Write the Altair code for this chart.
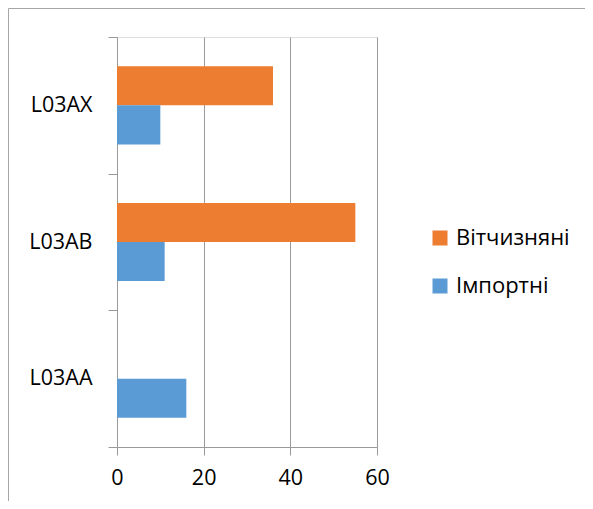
import altair as alt
import pandas as pd

categories = ["L03AX", "L03AB", "L03AA"]
domestic = [36, 55, 0]
imported = [10, 11, 16]
series_names = ["Вітчизняні", "Імпортні"]
series_colors = ["#ED7D31", "#5B9BD5"]
x_ticks = [0, 20, 40, 60]

rows = []
for c, d, i in zip(categories, domestic, imported):
    rows.append({"cat": c, "series": series_names[0], "value": d})
    rows.append({"cat": c, "series": series_names[1], "value": i})
df = pd.DataFrame(rows)

FONT = "Open Sans"
GRAY = "#9a9a9a"
W, H = 260, 410
PL, PT = 109, 29
TOTAL_W, TOTAL_H = 577, 493

bars = alt.Chart(df).mark_bar().encode(
    x=alt.X("value:Q",
            scale=alt.Scale(domain=[0, 60], nice=False),
            axis=alt.Axis(values=x_ticks, title=None, grid=True, gridColor=GRAY,
                          domainColor=GRAY, tickColor=GRAY, tickSize=8,
                          labelFlush=False,
                          labelFont=FONT, labelFontSize=21.5, labelColor="#000",
                          labelPadding=12)),
    y=alt.Y("cat:N", sort=categories,
            scale=alt.Scale(paddingInner=0, paddingOuter=0),
            axis=alt.Axis(title=None, tickBand="extent", tickSize=9,
                          domainColor=GRAY, tickColor=GRAY, grid=False,
                          labelFont=FONT, labelFontSize=21.5, labelColor="#000",
                          labelPadding=16)),
    yOffset=alt.YOffset("series:N", sort=series_names,
                        scale=alt.Scale(paddingInner=0, paddingOuter=0.75)),
    color=alt.Color("series:N",
                    scale=alt.Scale(domain=series_names, range=series_colors),
                    legend=alt.Legend(title=None, orient="none", legendX=312, legendY=190,
                                      symbolType="square", symbolSize=225,
                                      symbolStrokeWidth=0, labelFont=FONT,
                                      labelFontSize=22, labelColor="#000",
                                      labelOffset=5, rowPadding=26)),
)

one = pd.DataFrame({"a": [0]})
border_left = alt.Chart(one).mark_rule(color="#a6a6a6", strokeWidth=1).encode(
    x=alt.value(-PL + 0.5), y=alt.value(-PT + 0.5), y2=alt.value(TOTAL_H - PT))
border_top = alt.Chart(one).mark_rule(color="#a6a6a6", strokeWidth=1).encode(
    x=alt.value(-PL + 0.5), x2=alt.value(TOTAL_W - PL), y=alt.value(-PT + 0.5))

chart = alt.layer(bars, border_left, border_top).properties(
    width=W, height=H,
    autosize=alt.AutoSizeParams(type="none"),
    padding={"left": PL, "top": PT, "right": TOTAL_W - PL - W, "bottom": TOTAL_H - PT - H},
).configure_view(stroke=None).configure(background="white")

chart.save("out.html", embed_options={"renderer": "svg", "actions": False})
